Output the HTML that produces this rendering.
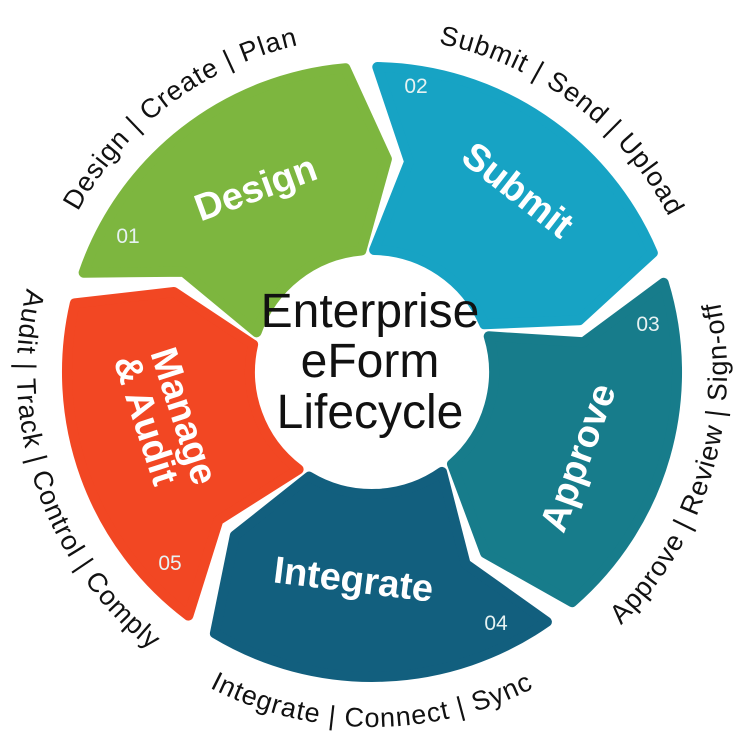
<!DOCTYPE html>
<html><head><meta charset="utf-8"><style>
html,body{margin:0;padding:0;background:#fff;}
svg{display:block;}
.seg{font-family:"Liberation Sans",sans-serif;font-weight:bold;fill:#fff;font-size:38px;}
.num{font-family:"Liberation Sans",sans-serif;fill:#e6f2f2;font-size:21px;}
.out{font-family:"Liberation Sans",sans-serif;fill:#111;font-size:27px;letter-spacing:1px;}
.ctr{font-family:"Liberation Sans",sans-serif;fill:#111;font-size:48px;}
</style></head><body>
<svg id="s" width="740" height="740" viewBox="0 0 740 740" xmlns="http://www.w3.org/2000/svg">
<g id="segs"></g>
<defs>
<path id="pDesign" d="M104.4 573.6 A335 335 0 0 1 639.6 170.4"/>
<path id="pSubmit" d="M104.4 170.4 A335 335 0 0 1 639.6 573.6"/>
<path id="pInteg" d="M17 372 A355 355 0 0 0 727 372"/>
<path id="pAppr" d="M268.2 711.5 A355 355 0 0 0 475.8 32.5"/>
<path id="pAudit" d="M256.4 36.2 A355 355 0 0 0 487.6 707.8"/>
</defs>
<text class="out"><textPath href="#pDesign" startOffset="50%" text-anchor="middle">Design | Create | Plan</textPath></text>
<text class="out"><textPath href="#pSubmit" startOffset="50%" text-anchor="middle">Submit | Send | Upload</textPath></text>
<text class="out"><textPath href="#pInteg" startOffset="50%" text-anchor="middle">Integrate | Connect | Sync</textPath></text>
<text class="out"><textPath href="#pAppr" startOffset="50%" text-anchor="middle">Approve | Review | Sign-off</textPath></text>
<text class="out"><textPath href="#pAudit" startOffset="50%" text-anchor="middle">Audit | Track | Control | Comply</textPath></text>

<text class="seg" transform="translate(260,200) rotate(-20)" text-anchor="middle">Design</text>
<text class="seg" transform="translate(510,200) rotate(38)" text-anchor="middle">Submit</text>
<text class="seg" transform="translate(590,462) rotate(-70)" text-anchor="middle">Approve</text>
<text class="seg" transform="translate(352,592) rotate(7)" text-anchor="middle">Integrate</text>
<text class="seg" transform="translate(172,420) rotate(72)" text-anchor="middle">Manage</text>
<text class="seg" transform="translate(134,424) rotate(72)" text-anchor="middle">&amp; Audit</text>

<text class="num" x="128" y="243" text-anchor="middle">01</text>
<text class="num" x="416" y="93" text-anchor="middle">02</text>
<text class="num" x="648" y="331" text-anchor="middle">03</text>
<text class="num" x="496" y="630" text-anchor="middle">04</text>
<text class="num" x="170" y="570" text-anchor="middle">05</text>

<text class="ctr" x="370" y="327" text-anchor="middle">Enterprise</text>
<text class="ctr" x="370" y="377" text-anchor="middle">eForm</text>
<text class="ctr" x="370" y="428" text-anchor="middle">Lifecycle</text>
</svg>
<script>
(function(){
var cx=372,cy=372,ro=305,ri=122,rm=(ro+ri)/2,d=9,gap=6;
function P(t,r){var a=t*Math.PI/180;return [(cx+r*Math.sin(a)).toFixed(1),(cy-r*Math.cos(a)).toFixed(1)];}
var cols=['#7db63f','#17a3c4','#177c8b','#125f7e','#f24723'];
var g=document.getElementById('segs');
for(var i=0;i<5;i++){
 var a0=-74+72*i+gap/2, a1=a0+72-gap;
 var p1=P(a0,ro),p2=P(a1,ro),p3=P(a1+d,rm),p4=P(a1,ri),p5=P(a0,ri),p6=P(a0+d,rm);
 var dd='M'+p1+' A'+ro+' '+ro+' 0 0 1 '+p2+' L'+p3+' L'+p4+' A'+ri+' '+ri+' 0 0 0 '+p5+' L'+p6+' Z';
 var e=document.createElementNS('http://www.w3.org/2000/svg','path');
 e.setAttribute('d',dd);e.setAttribute('fill',cols[i]);e.setAttribute('stroke',cols[i]);
 e.setAttribute('stroke-width','10');e.setAttribute('stroke-linejoin','round');
 g.appendChild(e);
}
})();
</script>
</body></html>
